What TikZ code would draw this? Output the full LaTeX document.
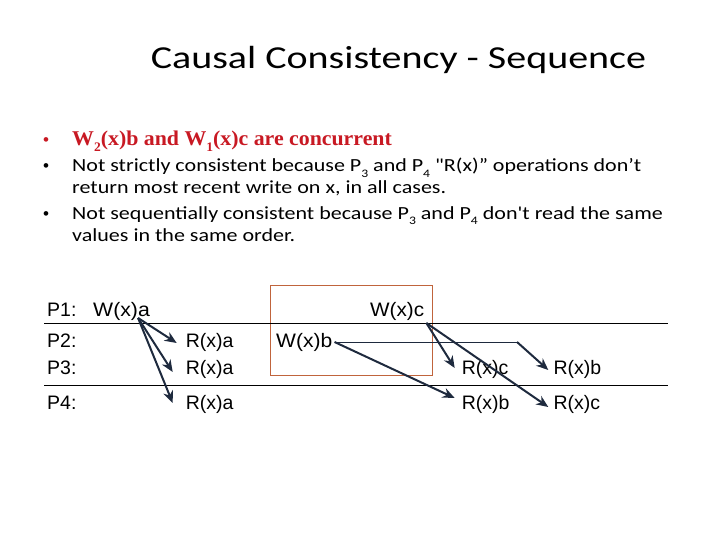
\documentclass[tikz,border=0pt]{standalone}
\usepackage{graphicx}
\usepackage{fontspec}
\setmainfont{Carlito}[Ligatures=TeXOff]
\newfontfamily\arialf{Liberation Sans}
\newfontfamily\timesf{Liberation Serif}
\usetikzlibrary{arrows.meta,calc}
\definecolor{redtxt}{RGB}{200,25,35}
\definecolor{arrcol}{RGB}{30,42,62}
\definecolor{boxcol}{RGB}{192,100,60}
\newcommand\sbs[1]{\raisebox{-0.28em}{\fontsize{0.62em}{0.62em}\selectfont #1}}
\newcommand\hs[2]{\scalebox{#1}[1]{#2}}
\begin{document}
\begin{tikzpicture}[x=1pt,y=-1pt,
  txt/.style={inner sep=0pt,anchor=base west},
  bul/.style={inner sep=0pt,anchor=base west,font=\fontsize{18.5}{22}\selectfont},
  dot/.style={inner sep=0pt,anchor=base west,font=\arialf\fontsize{17}{22}\selectfont},
  lbl/.style={inner sep=0pt,anchor=base west,font=\arialf\fontsize{19.5}{22}\selectfont},
  arr/.style={draw=arrcol,line width=2pt,-{Stealth[length=12pt,width=10pt]}},
  thin/.style={draw=arrcol,line width=0.9pt},
  rule/.style={draw=black,line width=1pt}]
\useasboundingbox (0,0) rectangle (720,540);
% title
\node[inner sep=0pt,anchor=base,font=\fontsize{32}{36}\selectfont] (title) at (398.5,69) {\hs{1.25}{Causal Consistency - Sequence}};
% bullets
\node[dot,text=redtxt] (b1) at (43,146) {•};
\node[txt,font=\timesf\bfseries\fontsize{21}{24}\selectfont,text=redtxt] (t1) at (72,146) {\hs{1.04}{W\sbs{2}(x)b and W\sbs{1}(x)c are concurrent}};
\node[dot] (b2) at (43,172) {•};
\node[bul] (t2) at (72,172) {\hs{1.19}{Not strictly consistent because P\sbs{3} and P\sbs{4} "R(x)” operations don’t}};
\node[bul] (t2b) at (72,194) {\hs{1.19}{return most recent write on x, in all cases.}};
\node[dot] (b3) at (43,219) {•};
\node[bul] (t3) at (72,219) {\hs{1.19}{Not sequentially consistent because P\sbs{3} and P\sbs{4} don't read the same}};
\node[bul] (t3b) at (72,241) {\hs{1.19}{values in the same order.}};
% box
\node[draw=boxcol,line width=1.1pt,minimum width=162pt,minimum height=90pt,inner sep=0pt,anchor=north west] (box) at (270,285) {};
% rules
\coordinate (l1a) at (44,323); \coordinate (l1b) at (668,323);
\coordinate (l2a) at (44,385); \coordinate (l2b) at (668,385);
\draw[rule] (l1a) -- (l1b);
\draw[rule] (l2a) -- (l2b);
% labels
\node[lbl] (p1) at (47,316) {P1:};
\node[lbl] (p2) at (47,347) {P2:};
\node[lbl] (p3) at (47,374) {P3:};
\node[lbl] (p4) at (47,409) {P4:};
\node[lbl] (wa) at (93,316) {\hs{1.09}{W(x)a}};
\node[lbl] (ra2) at (185.7,347) {R(x)a};
\node[lbl] (ra3) at (185.7,374) {R(x)a};
\node[lbl] (ra4) at (185.7,409) {R(x)a};
\node[lbl] (wb) at (276,347) {\hs{1.08}{W(x)b}};
\node[lbl] (wc) at (370,316) {\hs{1.06}{W(x)c}};
\node[lbl] (rc3) at (461.7,374) {R(x)c};
\node[lbl] (rb4) at (461.7,409) {R(x)b};
\node[lbl] (rb3) at (553.3,374) {R(x)b};
\node[lbl] (rc4) at (553.3,409) {R(x)c};
% arrows from W(x)a
\coordinate (wa0) at ($(wa.base east)+(-12,2)$);
\draw[arr] (wa0) -- ($(ra2.base west)+(-9,-4)$);
\draw[arr] (wa0) -- ($(ra3.base west)+(-13,-2)$);
\draw[arr] (wa0) -- ($(ra4.base west)+(-13,-6)$);
% arrows from W(x)b
\coordinate (wb0) at ($(wb.base east)+(2,-5)$);
\coordinate (bend) at (517,342);
\draw[thin] (wb0) -- (bend);
\draw[arr] (bend) -- ($(rb3.base west)+(-5,-4)$);
\draw[arr] (wb0) -- ($(rb4.base west)+(-7,-11)$);
% arrows from W(x)c
\coordinate (wc0) at ($(wc.base east)+(2,7)$);
\draw[arr] (wc0) -- ($(rc3.base west)+(-7,-6)$);
\draw[arr] (wc0) -- ($(rc4.base west)+(-5,-2)$);
\end{tikzpicture}
\end{document}
